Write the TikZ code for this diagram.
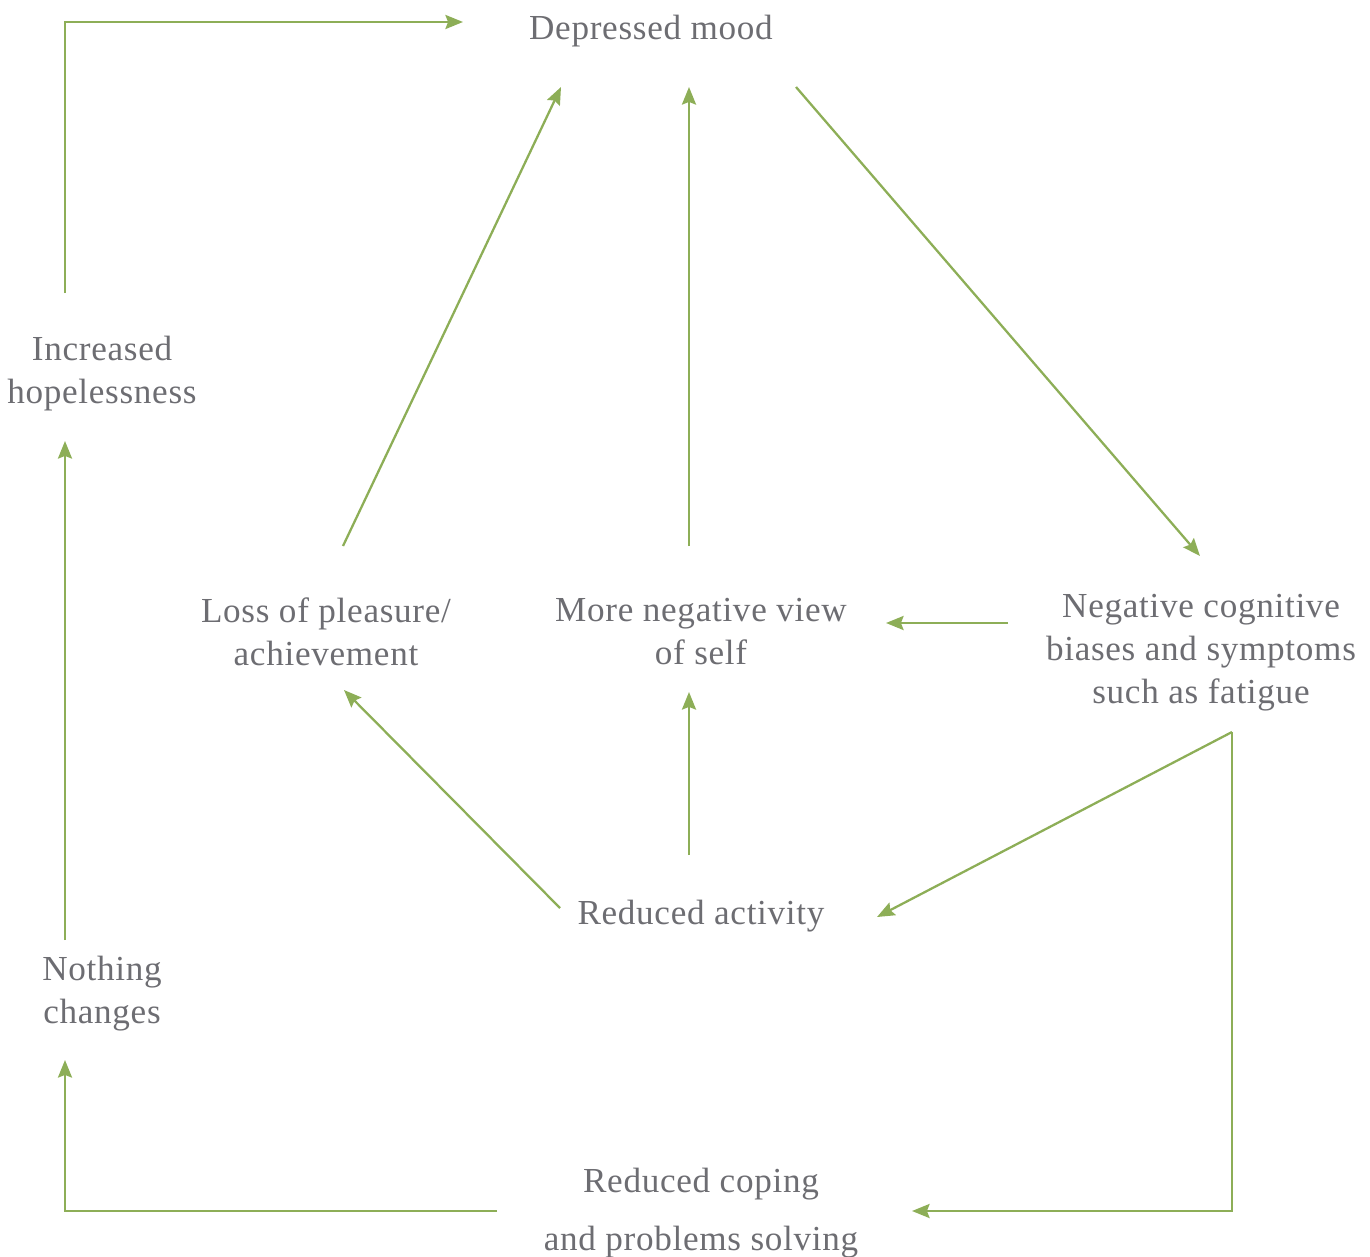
\documentclass[tikz,border=0pt]{standalone}
\usepackage{fontspec}
\setmainfont[LetterSpace=2]{Liberation Serif}
\usepackage{tikz}
\usetikzlibrary{arrows.meta, calc}

\definecolor{leaf}{HTML}{8DAE57}
\definecolor{ink}{HTML}{6D6D72}

\begin{document}
\begin{tikzpicture}[
        x=0.02cm, y=-0.02cm,
        txt/.style={align=center, text=ink, font=\fontsize{20}{24.5}\selectfont, inner sep=0pt},
        arr/.style={-{Stealth[length=10pt, width=8pt, inset=1.5pt]}, draw=leaf, line width=1.3pt}
    ]
    \useasboundingbox (0,0) rectangle (1370,1257);

    % states of the cycle
    \node[txt] (dep) at (651,31) {Depressed mood};
    \node[txt] (hope) at (102,374) {Increased\\hopelessness};
    \node[txt] (loss) at (326,632) {Loss of pleasure/\\achievement};
    \node[txt] (view) at (701,632) {More negative view\\of self};
    \node[txt] (neg) at (1201,653) {Negative cognitive\\biases and symptoms\\such as fatigue};
    \node[txt] (act) at (701,916) {Reduced activity};
    \node[txt] (noch) at (102,994) {Nothing\\changes};
    \node[txt] (cope) at (701,1213) {Reduced coping\\[8.5pt]and problems solving};

    % links
    \draw[arr] ($(hope)+(-37,-81)$) |- ($(dep)+(-188,-9)$);
    \draw[arr] ($(loss)+(17,-86)$) -- ($(dep)+(-90,56)$);
    \draw[arr] ($(view)+(-12,-86)$) -- ($(dep)+(38,56)$);
    \draw[arr] ($(dep)+(145,56)$) -- ($(neg)+(-1,-97)$);
    \draw[arr] ($(neg)+(-193,-30)$) -- ($(view)+(185,-9)$);
    \draw[arr] ($(act)+(-141,-8)$) -- ($(loss)+(18,58)$);
    \draw[arr] ($(act)+(-12,-61)$) -- ($(view)+(-12,60)$);
    \draw[arr] ($(neg)+(31,79)$) -- ($(act)+(176,1)$);
    \draw[arr] ($(neg)+(31,79)$) |- ($(cope)+(211,-2)$);
    \draw[arr] ($(cope)+(-204,-2)$) -| ($(noch)+(-37,66)$);
    \draw[arr] ($(noch)+(-37,-54)$) -- ($(hope)+(-37,67)$);
\end{tikzpicture}
\end{document}
